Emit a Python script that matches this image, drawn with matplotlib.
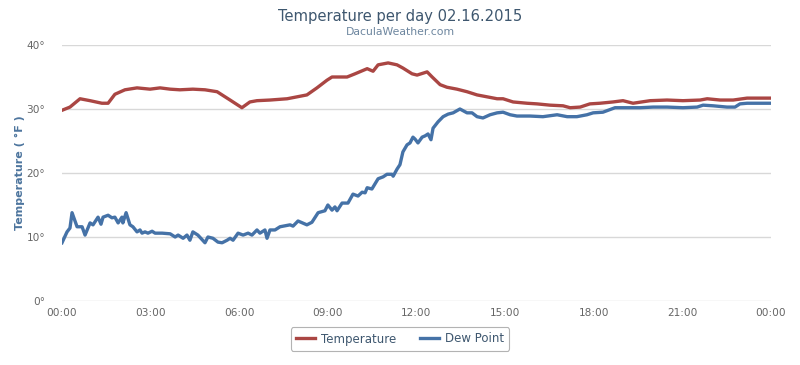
import matplotlib
matplotlib.use("Agg")
import matplotlib.pyplot as plt

# ---- data (hours since midnight, degrees F) ----
temp_hours = [0.00, 0.27, 0.61, 0.95, 1.35, 1.56, 1.79, 2.13, 2.54, 2.98, 3.32, 3.66, 3.99,
              4.43, 4.84, 5.25, 5.69, 6.09, 6.36, 6.60, 7.04, 7.62, 8.29, 8.63, 8.97, 9.14,
              9.65, 9.92, 10.33, 10.53, 10.70, 11.04, 11.34, 11.54, 11.85, 12.02, 12.36,
              12.53, 12.80, 13.03, 13.37, 13.71, 14.05, 14.39, 14.73, 14.93, 15.27, 15.74,
              16.08, 16.52, 16.96, 17.20, 17.54, 17.87, 18.21, 18.65, 18.99, 19.33, 19.91,
              20.48, 21.02, 21.60, 21.84, 22.28, 22.72, 23.19, 24.00]
temp_values = [29.8, 30.3, 31.6, 31.3, 30.9, 30.9, 32.3, 33.0, 33.3, 33.1, 33.3, 33.1, 33.0,
               33.1, 33.0, 32.7, 31.4, 30.2, 31.1, 31.3, 31.4, 31.6, 32.2, 33.3, 34.5, 35.0,
               35.0, 35.5, 36.3, 35.9, 36.9, 37.2, 36.9, 36.4, 35.5, 35.3, 35.8,
               35.0, 33.8, 33.4, 33.1, 32.7, 32.2, 31.9, 31.6, 31.6, 31.1, 30.9,
               30.8, 30.6, 30.5, 30.2, 30.3, 30.8, 30.9, 31.1, 31.3, 30.9, 31.3,
               31.4, 31.3, 31.4, 31.6, 31.4, 31.4, 31.7, 31.7]

dew_hours = [0.00, 0.17, 0.27, 0.34, 0.51, 0.68, 0.78, 0.95, 1.05, 1.22, 1.32, 1.39, 1.56,
             1.69, 1.79, 1.90, 2.03, 2.06, 2.17, 2.30, 2.40, 2.54, 2.64, 2.71, 2.81, 2.91,
             3.05, 3.15, 3.39, 3.66, 3.83, 3.93, 4.10, 4.23, 4.33, 4.43, 4.60, 4.84, 4.94,
             5.11, 5.28, 5.42, 5.59, 5.69, 5.79, 5.96, 6.13, 6.30, 6.43, 6.60, 6.70, 6.87,
             6.94, 7.04, 7.21, 7.38, 7.72, 7.82, 7.99, 8.29, 8.46, 8.67, 8.90, 9.00, 9.14,
             9.24, 9.31, 9.48, 9.68, 9.85, 10.02, 10.16, 10.26, 10.33, 10.49, 10.70, 10.87,
             11.00, 11.17, 11.21, 11.34, 11.44, 11.54, 11.68, 11.78, 11.88, 11.95, 12.05,
             12.19, 12.29, 12.39, 12.49, 12.56, 12.73, 12.90, 13.07, 13.24, 13.47, 13.71,
             13.88, 14.05, 14.25, 14.49, 14.73, 14.93, 15.17, 15.40, 15.84, 16.28, 16.76,
             17.10, 17.43, 17.77, 17.98, 18.31, 18.72, 19.13, 19.57, 20.01, 20.48, 21.02,
             21.50, 21.70, 22.04, 22.51, 22.78, 22.95, 23.19, 24.00]
dew_values = [9.1, 10.8, 11.4, 13.8, 11.6, 11.6, 10.3, 12.2, 11.9, 13.1, 12.0, 13.1, 13.4,
              13.0, 13.1, 12.2, 13.1, 12.2, 13.8, 11.9, 11.6, 10.8, 11.1, 10.6, 10.8, 10.6,
              10.9, 10.6, 10.6, 10.5, 10.0, 10.3, 9.8, 10.3, 9.5, 10.8, 10.3, 9.1, 10.0,
              9.8, 9.2, 9.1, 9.5, 9.8, 9.5, 10.6, 10.3, 10.6, 10.3, 11.1, 10.6, 11.1,
              9.8, 11.1, 11.1, 11.6, 11.9, 11.7, 12.5, 11.9, 12.3, 13.8, 14.1, 15.0, 14.2,
              14.7, 14.1, 15.3, 15.3, 16.7, 16.4, 17.0, 16.9, 17.7, 17.5, 19.1, 19.4,
              19.8, 19.8, 19.5, 20.6, 21.3, 23.3, 24.4, 24.7, 25.6, 25.3, 24.7,
              25.6, 25.8, 26.1, 25.2, 27.0, 28.0, 28.8, 29.2, 29.4, 30.0, 29.4,
              29.4, 28.8, 28.6, 29.1, 29.4, 29.5, 29.1, 28.9, 28.9, 28.8, 29.1,
              28.8, 28.8, 29.1, 29.4, 29.5, 30.2, 30.2, 30.2, 30.3, 30.3, 30.2,
              30.3, 30.6, 30.5, 30.3, 30.3, 30.8, 30.9, 30.9]

x_tick_hours = [0, 3, 6, 9, 12, 15, 18, 21, 24]
x_tick_labels = ["00:00", "03:00", "06:00", "09:00", "12:00", "15:00", "18:00", "21:00", "00:00"]
y_ticks = [0, 10, 20, 30, 40]
y_tick_labels = ["0°", "10°", "20°", "30°", "40°"]

title = "Temperature per day 02.16.2015"
subtitle = "DaculaWeather.com"

plt.rcParams['font.family'] = ['DejaVu Sans']

fig = plt.figure(figsize=(8.0, 3.65), dpi=100)
ax = fig.add_axes([62/800, 64/365, 709/800, 256/365])

ax.plot(temp_hours, temp_values, color="#AA4643", lw=2.4, label="Temperature",
        solid_joinstyle="round", zorder=3)
ax.plot(dew_hours, dew_values, color="#4572A7", lw=2.4, label="Dew Point",
        solid_joinstyle="round", zorder=4)

ax.set_xlim(0, 24)
ax.set_ylim(0, 40)
ax.set_xticks(x_tick_hours)
ax.set_xticklabels(x_tick_labels, color="#666666", fontsize=7.6)
ax.set_yticks(y_ticks)
ax.set_yticklabels(y_tick_labels, color="#666666", fontsize=7.6)
ax.tick_params(axis="y", length=0, pad=12)
ax.tick_params(axis="x", length=0, pad=5)
ax.grid(axis="y", color="#D8D8D8", lw=1)
ax.set_axisbelow(True)
for s in ax.spines.values():
    s.set_visible(False)

fig.text(20/800, 1 - 173/365, "Temperature ( °F )", rotation=90, ha="center", va="center",
         color="#4D759E", fontsize=8, fontweight="bold")

fig.text(0.5, 1 - 17/365, title, ha="center", va="center", color="#3E576F", fontsize=11.8,
         fontstretch="condensed")
fig.text(0.5, 1 - 32/365, subtitle, ha="center", va="center", color="#6D869F", fontsize=7.8)

leg = fig.legend(loc="center", bbox_to_anchor=(0.5, 1 - 339/365), ncol=2, frameon=True,
                 fancybox=True, edgecolor="#A0A0A0", fontsize=8.5, handlelength=1.6,
                 columnspacing=2.0, borderpad=0.45, handletextpad=0.5)
leg.get_frame().set_linewidth(0.8)
for t in leg.get_texts():
    t.set_color("#3E576F")

fig.savefig("out.png", dpi=100)
